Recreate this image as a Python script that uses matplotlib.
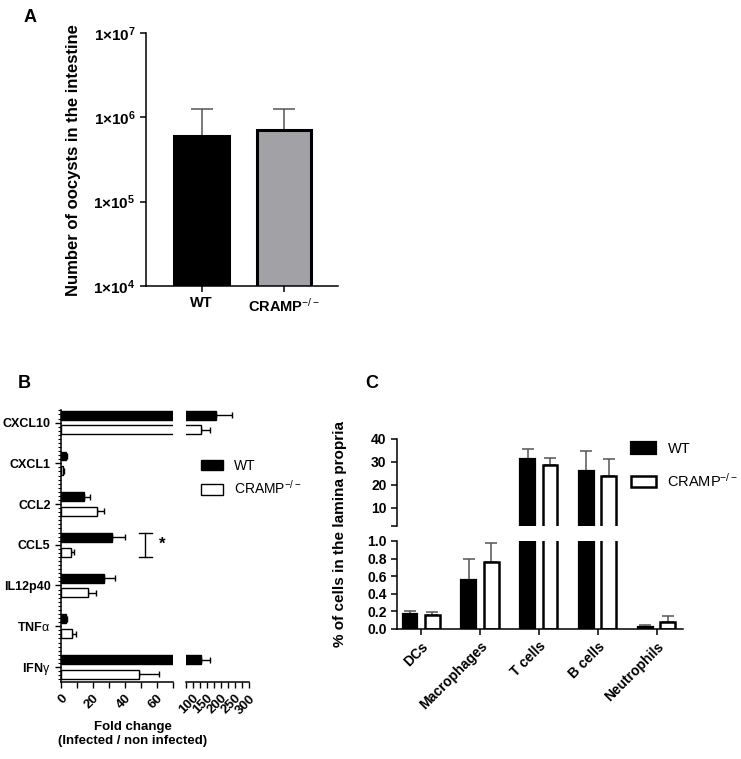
import matplotlib
matplotlib.use("Agg")
import matplotlib.pyplot as plt
import numpy as np
from matplotlib.ticker import MultipleLocator, FixedLocator, FormatStrFormatter

plt.rcParams['font.family'] = ['Liberation Sans', 'DejaVu Sans']
plt.rcParams['mathtext.fontset'] = 'custom'
plt.rcParams['mathtext.rm'] = 'Liberation Sans'
plt.rcParams['mathtext.it'] = 'Liberation Sans:italic'
plt.rcParams['mathtext.bf'] = 'Liberation Sans:bold'
plt.rcParams['axes.linewidth'] = 1.1

# ---- data ----
# panel A: oocysts
groups_a = ['WT', r'CRAMP$^{-/-}$']
oocysts_mean = [6.0e5, 7.0e5]
oocysts_err = [6.5e5, 5.5e5]

# panel B: fold change
genes = ['CXCL10', 'CXCL1', 'CCL2', 'CCL5', 'IL12p40', r'TNF$\mathrm{\alpha}$', r'IFN$\mathrm{\gamma}$']
fold_wt = [183, 2.9, 14.4, 31.7, 26.9, 3.0, 129]
fold_wt_err = [57, 1.1, 3.6, 8.3, 7.1, 1.0, 32]
fold_ko = [129, 1.5, 22.3, 6.0, 17.0, 6.6, 49]
fold_ko_err = [32, 0.3, 4.7, 2.0, 4.7, 2.8, 12.5]

# panel C: lamina propria cells
cells = ['DCs', 'Macrophages', 'T cells', 'B cells', 'Neutrophils']
pct_wt = [0.17, 0.55, 31.1, 26.2, 0.025]
pct_wt_err = [0.03, 0.24, 4.3, 8.5, 0.015]
pct_ko = [0.16, 0.76, 28.8, 23.9, 0.08]
pct_ko_err = [0.03, 0.22, 2.7, 7.3, 0.06]

W, H = 741, 759
fig = plt.figure(figsize=(W / 100, H / 100), dpi=100)

def box(x0, y0, x1, y1):
    # pixel box -> figure fraction
    return [x0 / W, 1 - y1 / H, (x1 - x0) / W, (y1 - y0) / H]

# ================= A =================
axA = fig.add_axes(box(146, 33, 338, 286))
xa = np.arange(len(groups_a))
axA.errorbar(xa, oocysts_mean, yerr=[[0, 0], oocysts_err], fmt='none',
             ecolor='#555555', elinewidth=1.1, capsize=8, capthick=1.1, zorder=1)
axA.bar(xa, oocysts_mean, width=0.66, color=['black', '#a2a2a6'],
        edgecolor='black', linewidth=2.2, zorder=2)
axA.set_yscale('log')
axA.set_ylim(1e4, 1e7)
axA.set_xlim(-0.673, 1.655)
axA.set_yticks([1e4, 1e5, 1e6, 1e7])
axA.set_yticklabels([r'$\mathbf{1{\times}10^{%d}}$' % k for k in [4, 5, 6, 7]], fontsize=11)
axA.yaxis.set_minor_locator(FixedLocator([]))
axA.set_xticks(xa)
axA.set_xticklabels(groups_a, fontsize=10.5, fontweight='bold')
for s in ['top', 'right']:
    axA.spines[s].set_visible(False)
axA.tick_params(width=1.1, length=4)
fig.text(74 / W, 1 - 160 / H, 'Number of oocysts in the intestine', rotation=90,
         ha='center', va='center', fontsize=12, fontweight='bold')
fig.text(30 / W, 1 - 18 / H, 'A', fontsize=13, fontweight='bold', ha='center', va='center')

# ================= B =================
yb = np.arange(len(genes))
off, hb = 0.18, 0.22
axB1 = fig.add_axes(box(61, 410, 173, 682))
axB2 = fig.add_axes(box(185.7, 410, 249, 682))
for ax in (axB1, axB2):
    ax.errorbar(fold_wt, yb - off, xerr=[np.zeros(len(genes)), fold_wt_err], fmt='none',
                ecolor='black', elinewidth=1.0, capsize=2.5, capthick=1.0, zorder=1)
    ax.errorbar(fold_ko, yb + off, xerr=[np.zeros(len(genes)), fold_ko_err], fmt='none',
                ecolor='black', elinewidth=1.0, capsize=2.5, capthick=1.0, zorder=1)
    bw = ax.barh(yb - off, fold_wt, height=hb, color='black', edgecolor='black', linewidth=1.0, zorder=2)
    bk = ax.barh(yb + off, fold_ko, height=hb, color='white', edgecolor='black', linewidth=1.0, zorder=2)
    ax.set_ylim(6.37, -0.31)
    for s in ['top', 'right']:
        ax.spines[s].set_visible(False)
    ax.tick_params(axis='x', labelsize=9.5, width=1.0, length=4)
axB1.set_xlim(0, 70)
axB1.xaxis.set_major_locator(FixedLocator([0, 20, 40, 60]))
axB1.xaxis.set_minor_locator(FixedLocator([10, 30, 50, 70]))
axB1.tick_params(axis='x', which='minor', length=4, width=1.0)
axB1.set_yticks(yb)
axB1.set_yticklabels(genes, fontsize=9, fontweight='bold')
axB1.yaxis.set_minor_locator(MultipleLocator(0.1))
axB1.tick_params(axis='y', which='major', length=4, width=1.0)
axB1.tick_params(axis='y', which='minor', length=2, width=0.8)
axB2.set_xlim(75, 300)
axB2.xaxis.set_major_locator(FixedLocator([100, 150, 200, 250, 300]))
axB2.xaxis.set_minor_locator(FixedLocator([75, 125, 175, 225, 275]))
axB2.tick_params(axis='x', which='minor', length=4, width=1.0)
axB2.spines['left'].set_visible(False)
axB2.set_yticks([])
for ax in (axB1, axB2):
    for lab in ax.get_xticklabels():
        lab.set_rotation(45)
        lab.set_ha('right')
        lab.set_rotation_mode('anchor')
        lab.set_fontweight('bold')
# significance bracket on CCL5
i5 = genes.index('CCL5')
axB1.plot([52.5, 52.5], [i5 - 0.30, i5 + 0.29], color='black', lw=1.0, clip_on=False)
axB1.plot([48.7, 56.9], [i5 - 0.30, i5 - 0.30], color='black', lw=1.0, clip_on=False)
axB1.plot([48.7, 56.9], [i5 + 0.29, i5 + 0.29], color='black', lw=1.0, clip_on=False)
axB1.text(63.5, i5 - 0.02, '*', fontsize=12, fontweight='bold', ha='center', va='center')
fig.legend([bw, bk], ['WT', r'CRAMP$^{-/-}$'], loc='center left',
           bbox_to_anchor=(201 / W, 1 - 478 / H), frameon=False, fontsize=10,
           handlelength=1.6, handleheight=0.8, labelspacing=0.45, handletextpad=0.8,
           borderpad=0, borderaxespad=0)
fig.text(133 / W, 1 - 734 / H, 'Fold change\n(Infected / non infected)', ha='center',
         va='center', fontsize=9.5, fontweight='bold', linespacing=1.2)
fig.text(24 / W, 1 - 383 / H, 'B', fontsize=13, fontweight='bold', ha='center', va='center')

# ================= C =================
xc = np.arange(len(cells))
offc, wc = 0.19, 0.25
axC1 = fig.add_axes(box(397, 438.7, 683, 526))
axC2 = fig.add_axes(box(397, 541, 683, 628.7))
for ax in (axC1, axC2):
    ax.errorbar(xc - offc, pct_wt, yerr=[np.zeros(len(cells)), pct_wt_err], fmt='none',
                ecolor='#555555', elinewidth=1.1, capsize=4, capthick=1.1, zorder=1)
    ax.errorbar(xc + offc, pct_ko, yerr=[np.zeros(len(cells)), pct_ko_err], fmt='none',
                ecolor='#555555', elinewidth=1.1, capsize=4, capthick=1.1, zorder=1)
    cw = ax.bar(xc - offc, pct_wt, width=wc, color='black', edgecolor='black', linewidth=1.6, zorder=2)
    ck = ax.bar(xc + offc, pct_ko, width=wc, color='white', edgecolor='black', linewidth=1.8, zorder=2)
    ax.set_xlim(-0.41, 4.45)
    for s in ['top', 'right']:
        ax.spines[s].set_visible(False)
    ax.tick_params(labelsize=10, width=1.1, length=4)
axC1.set_ylim(2.2, 40)
axC1.set_yticks([2.2, 10, 20, 30, 40])
axC1.set_yticklabels(['', '10', '20', '30', '40'], fontweight='bold')
axC1.spines['bottom'].set_visible(False)
axC1.set_xticks([])
axC2.set_ylim(0, 1.0)
axC2.set_yticks(np.arange(0, 1.01, 0.2))
axC2.yaxis.set_major_formatter(FormatStrFormatter('%.1f'))
for lab in axC2.get_yticklabels():
    lab.set_fontweight('bold')
axC2.set_xticks(xc)
axC2.set_xticklabels(cells, rotation=45, ha='right', rotation_mode='anchor',
                     fontsize=10, fontweight='bold')
fig.legend([cw, ck], ['WT', r'CRAMP$^{-/-}$'], loc='center left',
           bbox_to_anchor=(631 / W, 1 - 466 / H), frameon=False, fontsize=10.5,
           handlelength=1.7, handleheight=0.8, labelspacing=1.1, handletextpad=0.8,
           borderpad=0, borderaxespad=0)
fig.text(340 / W, 1 - 534 / H, '% of cells in the lamina propria', rotation=90,
         ha='center', va='center', fontsize=11, fontweight='bold')
fig.text(372 / W, 1 - 384 / H, 'C', fontsize=13, fontweight='bold', ha='center', va='center')

fig.savefig('out.png', dpi=100)
